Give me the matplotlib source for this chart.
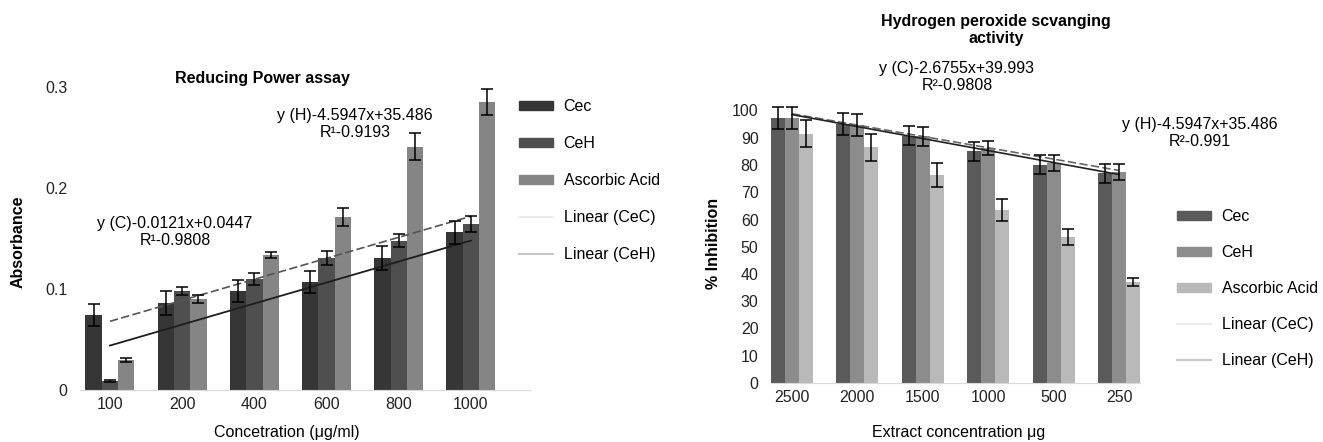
import numpy as np
import matplotlib
matplotlib.use('Agg')
import matplotlib.pyplot as plt
from matplotlib.patches import Patch
from matplotlib.lines import Line2D

plt.rcParams['font.family'] = ['Liberation Sans', 'DejaVu Sans']
FS = 11.5

# --- Reducing power assay ---
rp_conc = ['100', '200', '400', '600', '800', '1000']
rp_cec = [0.074, 0.086, 0.098, 0.107, 0.131, 0.156]
rp_ceh = [0.009, 0.098, 0.110, 0.131, 0.148, 0.164]
rp_aa = [0.030, 0.090, 0.134, 0.171, 0.241, 0.285]
rp_cec_err = [0.011, 0.012, 0.011, 0.011, 0.012, 0.011]
rp_ceh_err = [0.001, 0.004, 0.006, 0.007, 0.006, 0.008]
rp_aa_err = [0.002, 0.004, 0.003, 0.009, 0.013, 0.013]
# trend lines (value at first and last group)
rp_trend_cec = [0.068, 0.172]
rp_trend_ceh = [0.044, 0.148]

# --- Hydrogen peroxide scavenging ---
hp_conc = ['2500', '2000', '1500', '1000', '500', '250']
hp_cec = [97.2, 95.1, 90.7, 85.0, 80.1, 77.0]
hp_ceh = [97.2, 94.7, 90.5, 86.2, 80.7, 77.4]
hp_aa = [91.5, 86.5, 76.4, 63.5, 53.5, 37.0]
hp_cec_err = [4.0, 4.0, 3.5, 3.5, 3.5, 3.5]
hp_ceh_err = [4.0, 4.0, 3.5, 2.5, 3.0, 3.0]
hp_aa_err = [5.0, 5.0, 4.5, 4.0, 3.0, 1.5]
hp_trend_cec = [98.8, 78.0]
hp_trend_ceh = [98.5, 76.5]

labels = ['Cec', 'CeH', 'Ascorbic Acid', 'Linear (CeC)', 'Linear (CeH)']
W, H = 1323, 442

fig = plt.figure(figsize=(W / 100, H / 100), dpi=100)


def px(x0, y0, x1, y1):
    # pixel box (top-left origin) -> figure fraction rect
    return [x0 / W, 1 - y1 / H, (x1 - x0) / W, (y1 - y0) / H]


def bars(ax, vals, errs, colors, width):
    x = np.arange(len(vals[0]))
    for i, (v, e, c) in enumerate(zip(vals, errs, colors)):
        xi = x + (i - 1) * width
        ax.bar(xi, v, width=width, color=c, edgecolor='none', zorder=2)
        ax.errorbar(xi, v, yerr=e, fmt='none', ecolor='black', elinewidth=1.1,
                    capsize=4, capthick=1.1, zorder=4, clip_on=False)
    return x


def style(ax):
    for s in ['top', 'right', 'left']:
        ax.spines[s].set_visible(False)
    ax.spines['bottom'].set_color('#d9d9d9')
    ax.tick_params(length=0, labelsize=FS, colors='#222222')
    ax.tick_params(axis='y', pad=9)
    ax.tick_params(axis='x', pad=5)


def legend(fig, colors, lcolors, x, y, spacing):
    handles = [Patch(color=c) for c in colors]
    handles += [Line2D([], [], color=c, lw=1.5) for c in lcolors]
    fig.legend(handles, labels, loc='upper left', bbox_to_anchor=(x / W, 1 - y / H),
               frameon=False, fontsize=FS, borderpad=0, borderaxespad=0,
               handlelength=2.1, handleheight=0.5, handletextpad=0.7,
               labelspacing=spacing)


# left chart
ax1 = fig.add_axes(px(80, 87, 530, 390))
c1 = ['#363636', '#4f4f4f', '#858585']
x1 = bars(ax1, [rp_cec, rp_ceh, rp_aa], [rp_cec_err, rp_ceh_err, rp_aa_err], c1, 0.226)
ends = [x1[0], x1[-1]]
ax1.plot(ends, rp_trend_cec, color='#555555', lw=1.2, ls=(0, (5, 2)), zorder=3)
ax1.plot(ends, rp_trend_ceh, color='#1e1e1e', lw=1.3, zorder=3)
ax1.set_xlim(-0.415, 5.818)
ax1.set_ylim(0, 0.3)
ax1.set_yticks([0, 0.1, 0.2, 0.3])
ax1.set_yticklabels(['0', '0.1', '0.2', '0.3'])
ax1.set_xticks(x1)
ax1.set_xticklabels(rp_conc)
style(ax1)
legend(fig, c1, ['#ececec', '#c8c8c8'], 519, 99, 1.38)

fig.text(262 / W, 1 - 78 / H, 'Reducing Power assay', ha='center', va='center',
         fontsize=FS, fontweight='bold')
fig.text(355 / W, 1 - 124 / H, 'y (H)-4.5947x+35.486\nR¹-0.9193', ha='center',
         va='center', fontsize=FS, linespacing=1.15)
fig.text(175 / W, 1 - 232 / H, 'y (C)-0.0121x+0.0447\nR¹-0.9808', ha='center',
         va='center', fontsize=FS, linespacing=1.15)
fig.text(18 / W, 1 - 242 / H, 'Absorbance', rotation=90, ha='center', va='center',
         fontsize=FS, fontweight='bold')
fig.text(287 / W, 1 - 433 / H, 'Concetration (μg/ml)', ha='center', va='center',
         fontsize=FS)

# right chart
ax2 = fig.add_axes(px(771, 383 - 105 * 2.725, 1140, 383))
c2 = ['#5a5a5a', '#8c8c8c', '#b9b9b9']
x2 = bars(ax2, [hp_cec, hp_ceh, hp_aa], [hp_cec_err, hp_ceh_err, hp_aa_err], c2, 0.214)
ends = [x2[0], x2[-1]]
ax2.plot(ends, hp_trend_cec, color='#666666', lw=1.2, ls=(0, (5, 2)), zorder=3)
ax2.plot(ends, hp_trend_ceh, color='#222222', lw=1.2, zorder=3)
ax2.set_xlim(-0.321, 5.321)
ax2.set_ylim(0, 105)
ax2.set_yticks(np.arange(0, 101, 10))
ax2.set_xticks(x2)
ax2.set_xticklabels(hp_conc)
style(ax2)
legend(fig, c2, ['#ececec', '#c8c8c8'], 1177, 209, 1.32)

fig.text(996 / W, 1 - 30 / H, 'Hydrogen peroxide scvanging\nactivity', ha='center',
         va='center', fontsize=FS, fontweight='bold', linespacing=1.2)
fig.text(957 / W, 1 - 77 / H, 'y (C)-2.6755x+39.993\nR²-0.9808', ha='center',
         va='center', fontsize=FS, linespacing=1.15)
fig.text(1200 / W, 1 - 133 / H, 'y (H)-4.5947x+35.486\nR²-0.991', ha='center',
         va='center', fontsize=FS, linespacing=1.15)
fig.text(713 / W, 1 - 243 / H, '% Inhibition', rotation=90, ha='center', va='center',
         fontsize=FS, fontweight='bold')
fig.text(959 / W, 1 - 433 / H, 'Extract concentration μg', ha='center', va='center',
         fontsize=FS)

fig.savefig('out.png', dpi=100)
